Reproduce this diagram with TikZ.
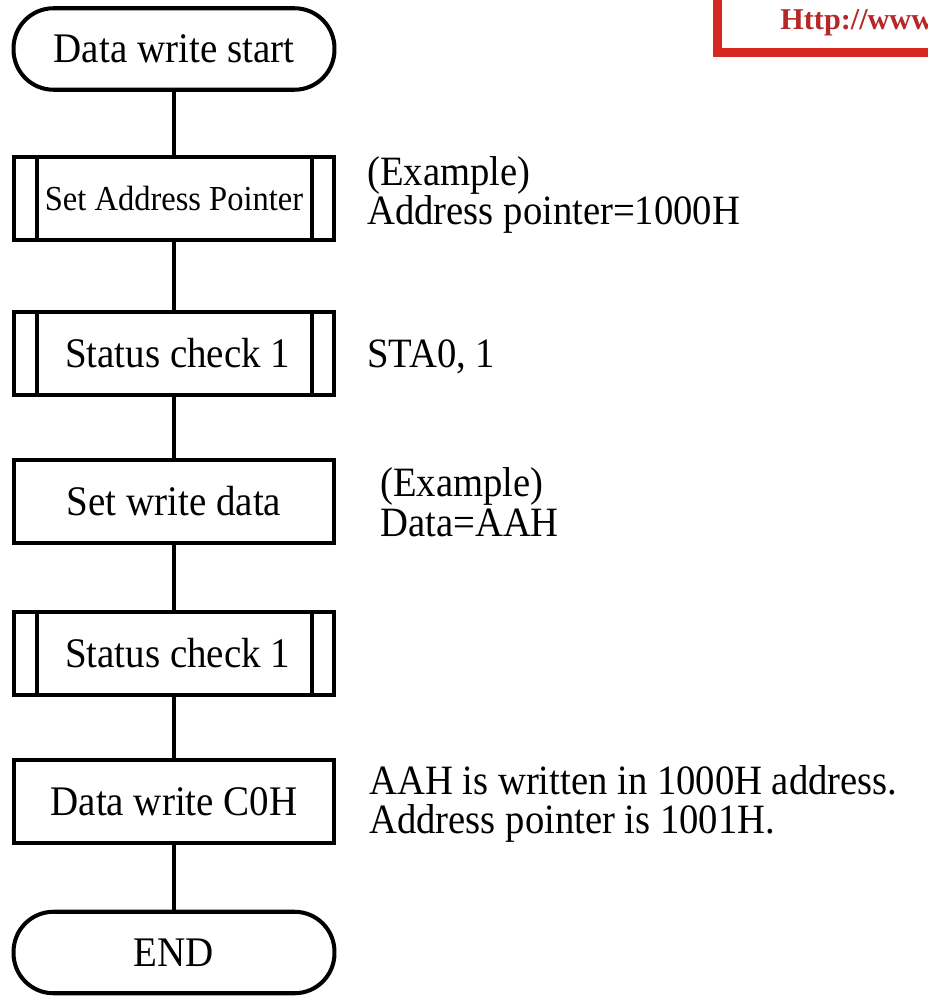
\documentclass[tikz,border=0pt]{standalone}
\usepackage{fontspec}
\usepackage{graphicx}
\setmainfont{Liberation Serif}
\newcommand{\tl}[1]{\scalebox{1}[1.08]{#1}}
\begin{document}
\begin{tikzpicture}[x=0.02cm,y=-0.02cm,
  lw/.style={line width=2.3pt},
  txt/.style={font=\fontsize{22.2pt}{21pt}\selectfont},
  boxbase/.style={draw, lw, rectangle, inner sep=0pt, outer sep=0pt, minimum width=6.42cm, minimum height=1.66cm, txt},
  procbox/.style={boxbase},
  predefbox/.style={boxbase},
  termbox/.style={boxbase, rounded corners=0.8cm, minimum height=1.63cm},
  note/.style={anchor=west, align=left, inner sep=0pt, font=\fontsize{22pt}{22.6pt}\selectfont},
  conn/.style={lw}]
\useasboundingbox (0,0) rectangle (928,996);

% red stamp (clipped at picture edge)
\begin{scope}
\clip (0,0) rectangle (928,996);
\draw[line width=5.1pt, draw={rgb,255:red,214;green,40;blue,32}] (717.5,-30) rectangle (1010,52.5);
\node[anchor=base west, inner sep=0pt, text={rgb,255:red,180;green,40;blue,40}, font=\bfseries\fontsize{17.2pt}{18pt}\selectfont] (url) at (780,30) {Http://www};
\end{scope}

% flowchart nodes
\node[termbox]   (start) at (174,49)    {\tl{Data write start}};
\node[predefbox, font=\fontsize{18.5pt}{20pt}\selectfont] (b1) at (174,198.5) {\tl{Set Address Pointer}};
\node[predefbox] (b2) at (174,353.5) {\hspace*{0.15cm}\tl{Status check 1}};
\node[procbox]   (b3) at (174,501.5) {\tl{Set write data}};
\node[predefbox] (b4) at (174,653.5) {\hspace*{0.15cm}\tl{Status check 1}};
\node[procbox]   (b5) at (174,801.5) {\tl{Data write C0H}};
\node[termbox]   (end) at (174,952.5) {\tl{END}};

% inner bars of predefined-process boxes
\foreach \n in {b1,b2,b4} {
  \draw[lw] ([xshift=0.46cm]\n.north west) -- ([xshift=0.46cm]\n.south west);
  \draw[lw] ([xshift=-0.44cm]\n.north east) -- ([xshift=-0.44cm]\n.south east);
}

% connectors
\draw[conn] (start) -- (b1);
\draw[conn] (b1) -- (b2);
\draw[conn] (b2) -- (b3);
\draw[conn] (b3) -- (b4);
\draw[conn] (b4) -- (b5);
\draw[conn] (b5) -- (end);

% notes
\node[note] (n1) at (367,195) {\tl{(Example)}\\\tl{Address pointer=1000H}};
\node[note] (n2) at (367,357) {\tl{STA0, 1}};
\node[note] (n3) at (380,502) {\tl{(Example)}\\\tl{Data=AAH}};
\node[note] (n4) at (369,804) {\tl{AAH is written in 1000H address.}\\\tl{Address pointer is 1001H.}};
\end{tikzpicture}
\end{document}
